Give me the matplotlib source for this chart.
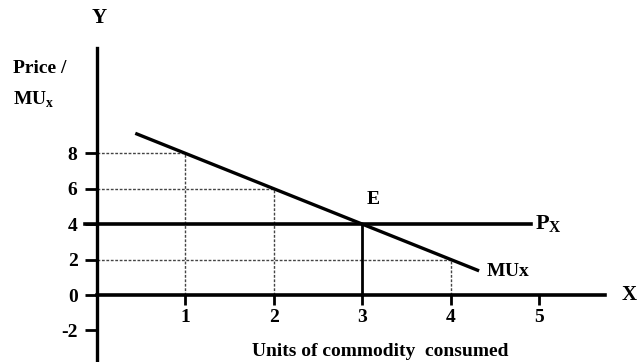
import matplotlib
matplotlib.use("Agg")
import matplotlib.pyplot as plt

# Data
mu_x = [0.45, 1, 2, 3, 4, 4.3]
mu_y = [9.1, 8, 6, 4, 2, 1.4]
price = 4
px_end = 4.9
eq_x = 3
guide_x = [1, 2, 4]
guide_y = [8, 6, 2]
xticks = [1, 2, 3, 4, 5]
yticks = [8, 6, 4, 2, 0, -2]
ytick_labels = ["8", "6", "4", "2", "0", "-2"]

plt.rcParams['font.family'] = ['Liberation Serif', 'DejaVu Serif']
plt.rcParams['font.weight'] = 'bold'

fig = plt.figure(figsize=(6.42, 3.62), dpi=100)
ax = fig.add_axes([0, 0, 1, 1])
ax.set_xlim(-97/88.5, (642-97)/88.5)
ax.set_ylim(-67/17.7, 295/17.7)

for s in ['top', 'right']:
    ax.spines[s].set_visible(False)
ax.spines['left'].set_position(('data', 0))
ax.spines['bottom'].set_position(('data', 0))
ax.spines['left'].set_bounds(-3.79, 13.95)
ax.spines['bottom'].set_bounds(0, 5.74)
ax.spines['left'].set_linewidth(2.4)
ax.spines['bottom'].set_linewidth(2.6)

ax.set_xticks(xticks)
ax.set_xticklabels([str(v) for v in xticks], fontsize=14, fontweight='bold')
ax.set_yticks(yticks)
ax.set_yticklabels(ytick_labels, fontsize=14, fontweight='bold')
ax.tick_params(axis='x', direction='out', length=7, width=2, pad=3)
ax.tick_params(axis='y', direction='out', length=9, width=2, pad=5)

# guide dotted lines
for gx, gy in zip(guide_x, guide_y):
    ax.plot([0, gx], [gy, gy], color='#444444', lw=1, ls=(0, (2, 1.2)))
    ax.plot([gx, gx], [0, gy], color='#444444', lw=1, ls=(0, (2, 1.2)))

# Price line
ax.plot([-0.13, px_end], [price, price], color='black', lw=2.6)
# equilibrium vertical
ax.plot([eq_x, eq_x], [0, price], color='black', lw=2)
# MU curve
ax.plot(mu_x, mu_y, color='black', lw=2.4)

ax.text(eq_x + 0.05, price + 0.9, 'E', fontsize=14, fontweight='bold', ha='left', va='bottom')
ax.text(px_end + 0.05, price, r'P$_\mathregular{X}$', fontsize=16, fontweight='bold', ha='left', va='center')
ax.text(mu_x[-1] + 0.1, mu_y[-1] - 0.1, r'MU$\mathregular{x}$', fontsize=14, fontweight='bold', ha='left', va='center')

ax.text(0.02, 15.65, 'Y', fontsize=15, fontweight='bold', ha='center', va='center')
ax.text(5.93, 0, 'X', fontsize=15, fontweight='bold', ha='left', va='center')
ax.text(-0.95, 12.8, 'Price /', fontsize=14, fontweight='bold', ha='left', va='center')
ax.text(-0.95, 11.0, r'MU$_\mathregular{x}$', fontsize=14, fontweight='bold', ha='left', va='center')
ax.text(3.2, -3.2, 'Units of commodity  consumed', fontsize=14, fontweight='bold', ha='center', va='center')

fig.savefig('out.png', dpi=100)
